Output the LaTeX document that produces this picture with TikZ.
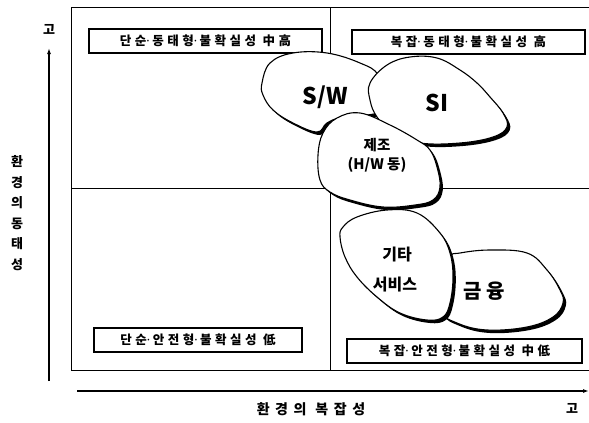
\documentclass[tikz,border=0pt]{standalone}
\usepackage{fontspec}
\setmainfont{Noto Sans CJK KR}
\newfontfamily\boxfont{Noto Sans CJK KR}[LetterSpace=28]
\newfontfamily\axfont{Noto Sans CJK KR}[LetterSpace=40]
\newfontfamily\dotfont{Noto Sans}
\newcommand\md{{\dotfont\bfseries ·}\kern2.5pt}
\usetikzlibrary{arrows.meta}
\newcommand\drawblob[1]{%
  \fill[black,shift={(2.8,3)}] plot[smooth cycle,tension=0.65] coordinates {#1};
  \filldraw[fill=white,draw=black,line width=1.1pt] plot[smooth cycle,tension=0.65] coordinates {#1};}
\tikzset{
  frame/.style={draw=black,line width=1pt},
  labelbox/.style={draw=black,line width=1.2pt,minimum height=24pt,inner sep=0pt,font=\boxfont\bfseries\fontsize{12.5}{13}\selectfont},
  axisline/.style={line width=1.5pt,-{Latex[length=6pt,width=4pt]}},
  blobtext/.style={font=\bfseries\fontsize{14.5}{17}\selectfont,align=center,inner sep=0pt},
  bigtext/.style={font=\bfseries\fontsize{23}{26}\selectfont,inner sep=0pt},
  axtext/.style={font=\bfseries\fontsize{13}{15}\selectfont,inner sep=0pt}
}
\begin{document}
\begin{tikzpicture}[x=1pt,y=-1pt]
\useasboundingbox (0,0) rectangle (589,423);
% frame and quadrants
\draw[frame] (592,7) -- (71,7) -- (71,370) -- (592,370);
\draw[frame] (330,7) -- (330,370);
\draw[frame] (71,188) -- (592,188);
% quadrant labels
\node[labelbox,minimum width=233pt] (tl) at (205.5,41) {단순\md 동태형\md 불확실성 中高};
\node[labelbox,minimum width=233pt] (tr) at (468.5,42) {복잡\md 동태형\md 불확실성 高};
\node[labelbox,minimum width=208pt] (bl) at (198,340) {단순\md 안전형\md 불확실성 低};
\node[labelbox,minimum width=235pt] (br) at (464.5,351) {복잡\md 안전형\md 불확실성 中低};
% axes
\coordinate (ybot) at (49,381);
\coordinate (ytop) at (49,48);
\coordinate (xl) at (77,391);
\coordinate (xr) at (589,391);
\draw[axisline] (ybot) -- (ytop);
\draw[axisline] (xl) -- (xr);
\node[axtext] (yhigh) at (49,29) {고};
\node[axtext] (xhigh) at (572,408) {고};
\node[axtext,align=center,font=\bfseries\fontsize{13}{20.5}\selectfont] (ylab) at (17,213) {환\\경\\의\\동\\태\\성};
\node[axtext,font=\axfont\bfseries\fontsize{14}{16}\selectfont] (xlab) at (311,409) {환경의 복잡성};
% blobs
\drawblob{(262,83) (270,63) (293,53) (327,53) (360,63) (378,75) (380,100) (377,113) (343,117) (327,123) (317,132) (293,123) (273,110) (263,95)}
\drawblob{(370,83) (387,65) (410,57) (437,58) (460,70) (477,83) (490,97) (503,113) (507,127) (493,137) (460,143) (420,143) (393,133) (377,117) (370,100)}
\drawblob{(323,133) (337,118) (360,113) (390,125) (417,140) (430,150) (437,167) (440,187) (433,200) (415,205) (383,207) (350,200) (330,192) (320,180) (318,155)}
\drawblob{(450,257) (460,253) (490,250) (527,253) (547,270) (560,290) (563,303) (553,317) (527,327) (487,330) (457,323) (440,310) (445,280)}
\drawblob{(343,227) (357,217) (387,210) (417,213) (440,233) (450,253) (453,277) (450,303) (443,317) (427,320) (400,313) (377,297) (357,277) (345,257) (340,237)}
\node[bigtext] (sw) at (325,97) {S/W};
\node[bigtext] (si) at (437,103) {SI};
\node[blobtext] (mfg1) at (377,145) {제조};
\node[blobtext] (mfg2) at (377,165) {(H/W 동)};
\node[blobtext,font=\bfseries\fontsize{16}{18}\selectfont] (etc1) at (397,255) {기타};
\node[blobtext,font=\bfseries\fontsize{16}{18}\selectfont] (etc2) at (395,285) {서비스};
\node[bigtext,font=\bfseries\fontsize{20}{22}\selectfont] (fin) at (484,291) {금 융};
\end{tikzpicture}
\end{document}
